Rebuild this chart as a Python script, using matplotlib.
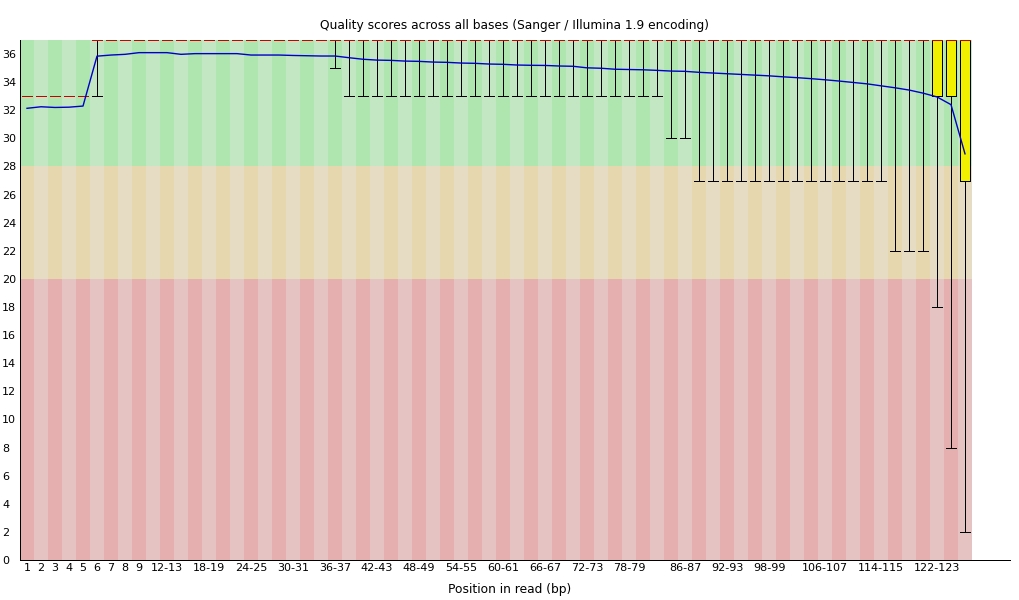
import matplotlib
matplotlib.use("Agg")
import matplotlib.pyplot as plt
from matplotlib.patches import Rectangle

# ---------------- data ----------------
categories = [
    "1", "2", "3", "4", "5", "6", "7", "8", "9",
    "10-11", "12-13", "14-15", "16-17", "18-19", "20-21", "22-23", "24-25",
    "26-27", "28-29", "30-31", "32-33", "34-35", "36-37", "38-39", "40-41",
    "42-43", "44-45", "46-47", "48-49", "50-51", "52-53", "54-55", "56-57",
    "58-59", "60-61", "62-63", "64-65", "66-67", "68-69", "70-71", "72-73",
    "74-75", "76-77", "78-79", "80-81", "82-83", "84-85", "86-87", "88-89",
    "90-91", "92-93", "94-95", "96-97", "98-99", "100-101", "102-103",
    "104-105", "106-107", "108-109", "110-111", "112-113", "114-115",
    "116-117", "118-119", "120-121", "122-123", "124-125", "126-127",
]

shown_labels = [
    "1", "2", "3", "4", "5", "6", "7", "8", "9", "12-13", "18-19", "24-25",
    "30-31", "36-37", "42-43", "48-49", "54-55", "60-61", "66-67", "72-73",
    "78-79", "86-87", "92-93", "98-99", "106-107", "114-115", "122-123",
]

mean_q = [
    32.14, 32.25, 32.20, 32.22, 32.30, 35.85, 35.93, 35.98, 36.10, 36.10,
    36.10, 35.98, 36.03, 36.03, 36.03, 36.03, 35.93, 35.93, 35.93, 35.90,
    35.88, 35.86, 35.86, 35.74, 35.63, 35.57, 35.55, 35.50, 35.48, 35.43,
    35.41, 35.36, 35.34, 35.29, 35.27, 35.22, 35.20, 35.19, 35.15, 35.13,
    35.02, 34.99, 34.92, 34.90, 34.88, 34.84, 34.79, 34.77, 34.70, 34.65,
    34.60, 34.55, 34.50, 34.45, 34.38, 34.32, 34.25, 34.17, 34.08, 33.98,
    33.88, 33.74, 33.60, 33.44, 33.22, 32.95, 32.40, 28.90,
]

median_q = [33] * 5 + [37] * 63
lower_quartile = [33] * 5 + [37] * 60 + [33, 33, 27]
upper_quartile = [33] * 5 + [37] * 63
lower_whisker = ([33] * 5 + [33] + [37] * 16 + [35] + [33] * 23 + [30] * 2
                 + [27] * 14 + [22] * 3 + [18, 8, 2])
upper_whisker = [33] * 5 + [37] * 63

title = "Quality scores across all bases (Sanger / Illumina 1.9 encoding)"
xlabel = "Position in read (bp)"
y_max = 37
y_ticks = [0, 2, 4, 6, 8, 10, 12, 14, 16, 18, 20, 22, 24, 26, 28, 30, 32, 34, 36]

# ---------------- style ----------------
def rgb(r, g, b):
    return (r / 255, g / 255, b / 255)

good = rgb(195, 230, 195)
good_dark = rgb(175, 230, 175)
bad = rgb(230, 220, 195)
bad_dark = rgb(230, 215, 175)
ugly = rgb(230, 195, 195)
ugly_dark = rgb(230, 175, 175)
box_col = rgb(240, 240, 0)
median_col = rgb(200, 0, 0)
mean_col = rgb(0, 0, 200)

W, H = 1020, 600
BIN_PX = 14
LW = 0.72
AA = False
line_kw = dict(lw=LW, antialiased=AA, solid_capstyle='butt')

plt.rcParams['font.family'] = ['DejaVu Sans']
fig = plt.figure(figsize=(W / 100, H / 100), dpi=100)
ax = fig.add_axes([20 / W, 40 / H, 990 / W, 520 / H])
n = len(categories)
ax.set_xlim(0.5, 0.5 + 990 / BIN_PX)
ax.set_ylim(0, y_max)

# background stripes
for i in range(n):
    x0 = i + 0.5
    dark = (i % 2 == 0)
    for (y0, y1, c_dark, c_light) in [(28, y_max, good_dark, good),
                                      (20, 28, bad_dark, bad),
                                      (0, 20, ugly_dark, ugly)]:
        ax.add_patch(Rectangle((x0, y0), 1, y1 - y0,
                               facecolor=c_dark if dark else c_light,
                               edgecolor='none', linewidth=0,
                               antialiased=False, zorder=0))

inset = 2 / BIN_PX
bw = 1 - 2 * inset
for i in range(n):
    xc = i + 1
    xl = xc - 0.5 + inset
    q1, q3 = lower_quartile[i], upper_quartile[i]
    ax.add_patch(Rectangle((xl, q1), bw, q3 - q1, facecolor=box_col,
                           edgecolor='black', linewidth=LW, antialiased=AA,
                           zorder=2))
    ax.plot([xc, xc], [upper_whisker[i], q3], color='black', zorder=2, **line_kw)
    ax.plot([xc, xc], [lower_whisker[i], q1], color='black', zorder=2, **line_kw)
    ax.plot([xl, xl + bw], [upper_whisker[i]] * 2, color='black', zorder=2,
            **line_kw)
    ax.plot([xl, xl + bw], [lower_whisker[i]] * 2, color='black', zorder=2,
            **line_kw)
    ax.plot([xl, xl + bw], [median_q[i]] * 2, color=median_col, zorder=3,
            **line_kw)

ax.plot(range(1, n + 1), mean_q, color=mean_col, lw=1.0, antialiased=True,
        zorder=4)

# axes
for s in ['top', 'right']:
    ax.spines[s].set_visible(False)
for s in ['left', 'bottom']:
    ax.spines[s].set_linewidth(LW)
    ax.spines[s].set_color('black')
    ax.spines[s].set_antialiased(AA)

ax.set_yticks(y_ticks)
ax.set_yticklabels([str(t) for t in y_ticks])
ax.tick_params(axis='y', length=0, pad=13, labelsize=8)
for lbl in ax.get_yticklabels():
    lbl.set_horizontalalignment('left')

ax.set_xticks([categories.index(l) + 1 for l in shown_labels])
ax.set_xticklabels(shown_labels)
ax.tick_params(axis='x', length=0, pad=2.5, labelsize=8)

fig.text(515 / W, 1 - 25 / H, title, ha='center', va='center', fontsize=8.8)
fig.text(510 / W, 1 - 590 / H, xlabel, ha='center', va='center', fontsize=8.8)

fig.savefig("out.png", dpi=100)
